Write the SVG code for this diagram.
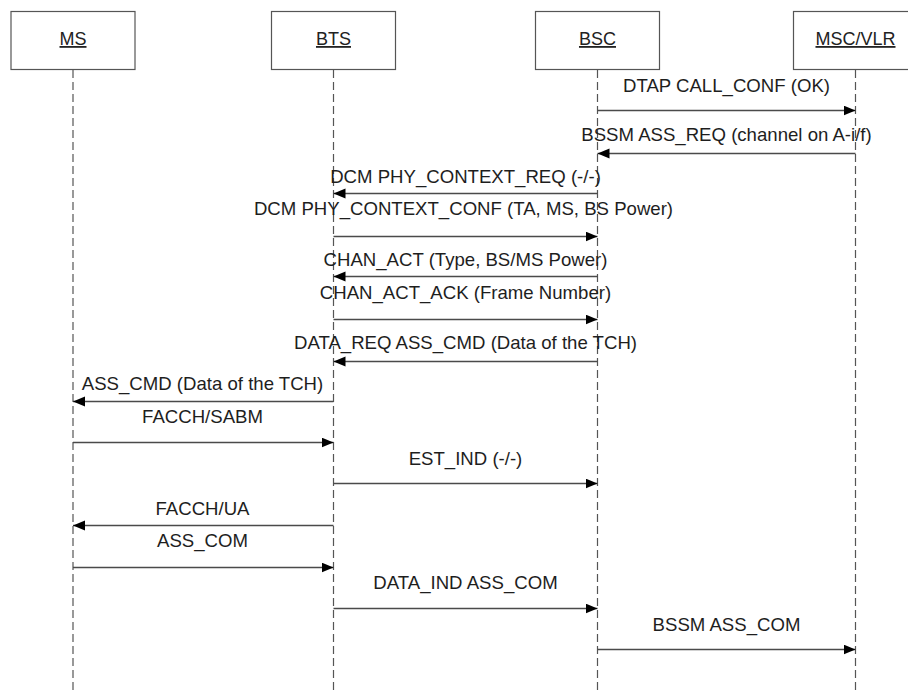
<svg xmlns="http://www.w3.org/2000/svg" width="908" height="691" viewBox="0 0 908 691">
  <style>
    .box { fill: #ffffff; stroke: #555555; stroke-width: 1.2; }
    .life { stroke: #555555; stroke-width: 1.2; stroke-dasharray: 8 4; fill: none; }
    .msg { stroke: #4a4a4a; stroke-width: 1.3; fill: none; marker-end: url(#head); }
    .name { font-family: "Liberation Sans", Arial, sans-serif; font-size: 18px; fill: #222222; text-anchor: middle; text-decoration: underline; }
    .lbl { font-family: "Liberation Sans", Arial, sans-serif; font-size: 18.6px; fill: #1e1e1e; text-anchor: middle; }
  </style>
  <defs>
    <marker id="head" markerUnits="userSpaceOnUse" markerWidth="13" markerHeight="11" refX="12" refY="5" orient="auto">
      <path d="M0,0 L12,5 L0,10 z" fill="#000000"/>
    </marker>
  </defs>
  <rect width="908" height="691" fill="#ffffff"/>

  <!-- participants with their lifelines -->
  <g id="ms">
    <rect class="box" x="11" y="11.5" width="124" height="58"/>
    <text class="name" x="73" y="45">MS</text>
    <line class="life" x1="73" y1="70" x2="73" y2="691"/>
  </g>
  <g id="bts">
    <rect class="box" x="271.5" y="11.5" width="124" height="58"/>
    <text class="name" x="333.5" y="45">BTS</text>
    <line class="life" x1="333.5" y1="70" x2="333.5" y2="691"/>
  </g>
  <g id="bsc">
    <rect class="box" x="535.5" y="11.5" width="124" height="58"/>
    <text class="name" x="597.5" y="45">BSC</text>
    <line class="life" x1="597.5" y1="70" x2="597.5" y2="691"/>
  </g>
  <g id="msc-vlr">
    <rect class="box" x="793.5" y="11.5" width="124" height="58"/>
    <text class="name" x="855.5" y="45">MSC/VLR</text>
    <line class="life" x1="855.5" y1="70" x2="855.5" y2="691"/>
  </g>

  <!-- messages -->
  <g id="messages">
    <line class="msg" x1="597.5" y1="110.5" x2="855.5" y2="110.5"/>
    <text class="lbl" x="726.5" y="92">DTAP CALL_CONF (OK)</text>

    <line class="msg" x1="855.5" y1="153.5" x2="597.5" y2="153.5"/>
    <text class="lbl" x="726.5" y="141">BSSM ASS_REQ (channel on A-i/f)</text>

    <line class="msg" x1="597.5" y1="193.5" x2="333.5" y2="193.5"/>
    <text class="lbl" x="465.5" y="183">DCM PHY_CONTEXT_REQ (-/-)</text>

    <line class="msg" x1="333.5" y1="236.5" x2="597.5" y2="236.5"/>
    <text class="lbl" x="463.5" y="215">DCM PHY_CONTEXT_CONF (TA, MS, BS Power)</text>

    <line class="msg" x1="597.5" y1="276.5" x2="333.5" y2="276.5"/>
    <text class="lbl" x="465.5" y="266">CHAN_ACT (Type, BS/MS Power)</text>

    <line class="msg" x1="333.5" y1="319.5" x2="597.5" y2="319.5"/>
    <text class="lbl" x="465.5" y="299">CHAN_ACT_ACK (Frame Number)</text>

    <line class="msg" x1="597.5" y1="361.5" x2="333.5" y2="361.5"/>
    <text class="lbl" x="465.5" y="349">DATA_REQ ASS_CMD (Data of the TCH)</text>

    <line class="msg" x1="333.5" y1="401.5" x2="73" y2="401.5"/>
    <text class="lbl" x="202.5" y="390">ASS_CMD (Data of the TCH)</text>

    <line class="msg" x1="73" y1="442.5" x2="333.5" y2="442.5"/>
    <text class="lbl" x="202.5" y="423">FACCH/SABM</text>

    <line class="msg" x1="333.5" y1="483.5" x2="597.5" y2="483.5"/>
    <text class="lbl" x="465.5" y="465">EST_IND (-/-)</text>

    <line class="msg" x1="333.5" y1="525.5" x2="73" y2="525.5"/>
    <text class="lbl" x="202.5" y="515">FACCH/UA</text>

    <line class="msg" x1="73" y1="567.5" x2="333.5" y2="567.5"/>
    <text class="lbl" x="202.5" y="547">ASS_COM</text>

    <line class="msg" x1="333.5" y1="608.5" x2="597.5" y2="608.5"/>
    <text class="lbl" x="465.5" y="589">DATA_IND ASS_COM</text>

    <line class="msg" x1="597.5" y1="649.5" x2="855.5" y2="649.5"/>
    <text class="lbl" x="726.5" y="631">BSSM ASS_COM</text>
  </g>
</svg>
